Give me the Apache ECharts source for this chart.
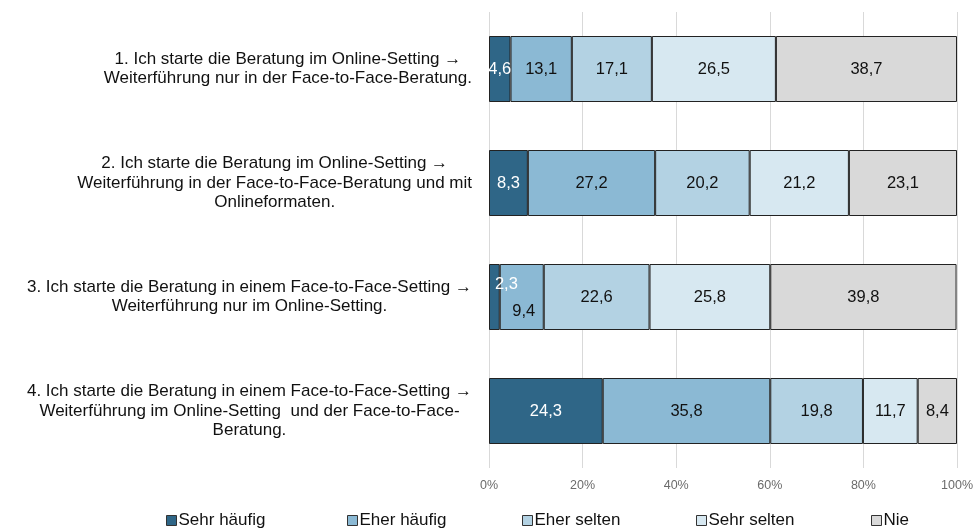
<!DOCTYPE html>
<html>
<head>
<meta charset="utf-8">
<script src="https://cdn.jsdelivr.net/npm/echarts@6/dist/echarts.min.js"></script>
<style>
  html, body { margin: 0; padding: 0; background: #fff; }
  #chart { width: 976px; height: 531px; }
</style>
</head>
<body>
<div id="chart"></div>
<script>
// Aussagen (von oben nach unten)
const categories = [
  ['1. Ich starte die Beratung im Online-Setting →', 'Weiterführung nur in der Face-to-Face-Beratung.'],
  ['2. Ich starte die Beratung im Online-Setting →', 'Weiterführung in der Face-to-Face-Beratung und mit', 'Onlineformaten.'],
  ['3. Ich starte die Beratung in einem Face-to-Face-Setting →', 'Weiterführung nur im Online-Setting.'],
  ['4. Ich starte die Beratung in einem Face-to-Face-Setting →', 'Weiterführung im Online-Setting  und der Face-to-Face-', 'Beratung.']
];

const seriesNames = ['Sehr häufig', 'Eher häufig', 'Eher selten', 'Sehr selten', 'Nie'];

// Prozentwerte je Antwortkategorie, Reihenfolge wie categories
const sehrHaeufig = [4.6, 8.3, 2.3, 24.3];
const eherHaeufig = [13.1, 27.2, 9.4, 35.8];
const eherSelten = [17.1, 20.2, 22.6, 19.8];
const sehrSelten = [26.5, 21.2, 25.8, 11.7];
const nie = [38.7, 23.1, 39.8, 8.4];

const xTicks = [0, 20, 40, 60, 80, 100];

const colors = ['#2f6687', '#8bb9d4', '#b3d2e3', '#d7e8f1', '#d9d9d9'];
const labelColors = ['#ffffff', '#111111', '#111111', '#111111', '#111111'];

const values = [sehrHaeufig, eherHaeufig, eherSelten, sehrSelten, nie];

const FONT = '"Liberation Sans", Arial, "DejaVu Sans", sans-serif';

const chart = echarts.init(document.getElementById('chart'));

const fmt = (v) => v.toFixed(1).replace('.', ',');

// Kleine Segmente in Zeile 3: Beschriftung versetzt
const labelOffsets = {
  '0-2': [12, -13],
  '1-2': [2, 14]
};

const series = values.map((arr, si) => ({
  name: seriesNames[si],
  type: 'bar',
  stack: 'total',
  barWidth: 66,
  itemStyle: { color: colors[si], borderColor: '#222', borderWidth: 1 },
  label: {
    show: true,
    position: 'inside',
    color: labelColors[si],
    fontFamily: FONT,
    fontSize: 16.5,
    formatter: (p) => fmt(p.value)
  },
  data: arr.map((v, ci) => {
    const off = labelOffsets[si + '-' + ci];
    return off ? { value: v, label: { offset: off } } : v;
  })
}));

// Legende: je Eintrag eine eigene Legende für gleichmäßige Abstände
const legendLeft = [166, 347, 522, 696, 871];
const legends = seriesNames.map((n, i) => ({
  data: [n],
  left: legendLeft[i],
  top: 512,
  padding: 0,
  itemWidth: 10,
  itemHeight: 10,
  itemGap: 0,
  icon: 'rect',
  itemStyle: { borderColor: '#333', borderWidth: 1 },
  textStyle: { fontSize: 17, color: '#111', fontFamily: FONT, padding: [0, 0, 0, -3] },
  selectedMode: false
}));

chart.setOption({
  animation: false,
  textStyle: { fontFamily: FONT },
  color: colors,
  grid: { left: 489, right: 17, top: 12, bottom: 63 },
  legend: legends,
  xAxis: {
    type: 'value',
    min: 0,
    max: 100,
    interval: 20,
    axisLine: { show: false },
    axisTick: { show: false },
    axisLabel: {
      color: '#6b6b6b',
      fontSize: 12.5,
      margin: 11,
      formatter: (v) => (xTicks.includes(v) ? v + '%' : '')
    },
    splitLine: { lineStyle: { color: '#d9d9d9', width: 1 } }
  },
  yAxis: {
    type: 'category',
    inverse: true,
    data: categories.map((c) => c.join('\n')),
    axisLine: { show: false },
    axisTick: { show: false },
    axisLabel: {
      margin: 17,
      align: 'right',
      formatter: (v) => v.split('\n').map((l) => '{a|' + l + '}').join('\n'),
      rich: {
        a: { align: 'center', fontSize: 17, lineHeight: 19.5, color: '#111', fontFamily: FONT }
      }
    }
  },
  series: series
});
</script>
</body>
</html>
